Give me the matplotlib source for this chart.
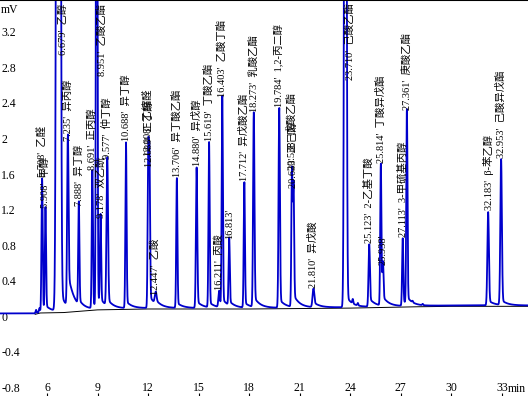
import matplotlib
matplotlib.use("Agg")
import matplotlib.pyplot as plt
import numpy as np

plt.rcParams['font.family'] = ['Liberation Serif', 'Noto Sans CJK SC']

# peaks: retention time (min), apex (mV), sigma (min), tail (mV)
peak_times = [5.708, 5.908, 6.679, 7.235, 7.888, 8.691, 8.951, 9.178, 9.577, 10.688,
              12.008, 12.083, 12.447, 13.706, 14.880, 15.619, 16.211, 16.403, 16.813,
              17.712, 18.273, 19.784, 20.538, 20.633, 21.810, 23.710, 25.123, 25.814,
              25.938, 27.113, 27.361, 32.183, 32.953]
peak_tops = [1.55, 1.20, 40.0, 1.95, 1.22, 1.63, 12.0, 1.08, 1.75, 1.95,
             1.78, 1.66, 0.22, 1.55, 1.67, 1.95, 0.27, 2.45, 0.85,
             1.50, 2.28, 2.34, 1.63, 1.42, 0.30, 15.0, 0.80, 1.70,
             0.55, 0.87, 2.30, 1.17, 1.76]
peak_sigmas = [0.035, 0.035, 0.074, 0.04, 0.035, 0.035, 0.035, 0.035, 0.045, 0.035,
               0.035, 0.035, 0.05, 0.035, 0.04, 0.035, 0.04, 0.035, 0.035,
               0.035, 0.04, 0.04, 0.035, 0.035, 0.05, 0.053, 0.04, 0.035,
               0.035, 0.035, 0.035, 0.045, 0.045]
peak_tails = [0.05, 0.05, 0.30, 0.40, 0.06, 0.06, 0.10, 0.05, 0.08, 0.08,
              0.08, 0.08, 0.05, 0.06, 0.08, 0.06, 0.04, 0.08, 0.05,
              0.06, 0.12, 0.10, 0.08, 0.08, 0.06, 0.15, 0.10, 0.08,
              0.05, 0.06, 0.08, 0.06, 0.06]
peak_names = ['乙醛', '甲醇', '乙醇', '异丙醇', '异丁醇', '正丙醇', '乙酸乙酯', '双乙酰', '仲丁醇', '异丁醇',
              '乙缩醛', '正丁醇', '乙酸', '异丁酸乙酯', '异戊醇', '丁酸乙酯', '丙酸', '乙酸丁酯', '',
              '异戊酸乙酯', '乳酸乙酯', '1,2-丙二醇', '戊酸乙酯', '正己醇', '异戊酸', '己酸乙酯', '2-乙基丁酸', '丁酸异戊酯',
              '', '3-甲硫基丙醇', '庚酸乙酯', 'β-苯乙醇', '己酸异戊酯']

# small unlabelled bumps
minor_times = [5.35, 5.55, 24.15, 24.45, 27.7, 28.3]
minor_tops = [0.07, 0.09, 0.15, 0.13, 0.13, 0.13]

# drifting baseline
base_times = [3.2, 5.3, 5.6, 7.0, 9.0, 12.0, 18.0, 24.0, 28.0, 30.0, 34.6]
base_levels = [0.03, 0.03, 0.045, 0.05, 0.08, 0.09, 0.09, 0.10, 0.115, 0.12, 0.12]

y_ticks = [3.2, 2.8, 2.4, 2.0, 1.6, 1.2, 0.8, 0.4, 0.0, -0.4, -0.8]
y_tick_labels = ['3.2', '2.8', '2.4', '2', '1.6', '1.2', '0.8', '0.4', '0', '-0.4', '-0.8']
x_ticks = [6, 9, 12, 15, 18, 21, 24, 27, 30, 33]

t = np.arange(3.2, 34.6, 0.002)
signal = np.interp(t, base_times, base_levels)
for t0, top, s, tail in zip(peak_times, peak_tops, peak_sigmas, peak_tails):
    h = top - np.interp(t0, base_times, base_levels)
    dt = t - t0
    pos = np.clip(dt, 0, None)
    signal += h * np.exp(-0.5 * (dt / s) ** 2)
    signal += np.where(dt > 0, tail * np.exp(-pos / 0.35) * (1 - np.exp(-pos / s)), 0)
for t0, top in zip(minor_times, minor_tops):
    h = top - np.interp(t0, base_times, base_levels)
    signal += h * np.exp(-0.5 * ((t - t0) / 0.03) ** 2)

fig = plt.figure(figsize=(5.28, 3.96), dpi=100)
ax = fig.add_axes([0, 0, 1, 1])
ax.set_xlim(3.21, 34.55)
ax.set_ylim(-0.9, 3.56)
ylim_top = 3.56

ax.plot(base_times[1:], np.array(base_levels[1:]) - 0.01, color='black', lw=0.7)
ax.plot(t, signal, color='#0000CC', lw=1.3)

# peak labels, rotated, sitting on the apex (or hanging from the top if off scale)
for t0, top, name in zip(peak_times, peak_tops, peak_names):
    label = f"{t0:.3f}'" + (f"  {name}" if name else "")
    if top < ylim_top:
        ax.text(t0, top + 0.02, label, rotation=90, ha='center', va='bottom', fontsize=7.5)
    else:
        ax.text(t0, ylim_top - 0.04, label, rotation=90, ha='left', va='top', fontsize=7.5)

for side in ['left', 'right', 'bottom']:
    ax.spines[side].set_visible(False)
ax.spines['top'].set_linewidth(1.5)

ax.set_yticks(y_ticks, y_tick_labels)
ax.tick_params(axis='y', length=0, pad=-1, labelsize=8.5)
for lab in ax.get_yticklabels():
    lab.set_horizontalalignment('left')
ax.set_xticks(x_ticks)
ax.tick_params(axis='x', direction='in', length=2.5, width=0.8, pad=-10, labelsize=8.5)

ax.text(0.002, 0.99, 'mV', transform=ax.transAxes, ha='left', va='top', fontsize=8.5)
ax.text(0.997, 0.002, 'min', transform=ax.transAxes, ha='right', va='bottom', fontsize=8.5)

fig.savefig('out.png', dpi=100)
